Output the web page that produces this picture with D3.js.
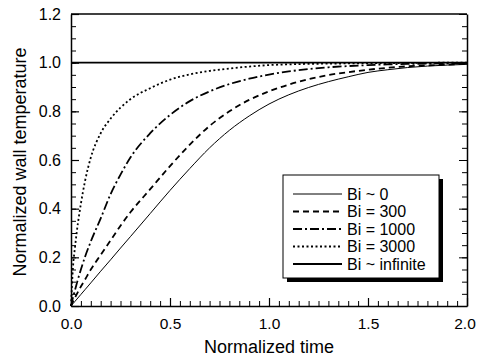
<!DOCTYPE html>
<html><head><meta charset="utf-8">
<script src="https://cdn.jsdelivr.net/npm/d3@7"></script>
<style>body{margin:0;background:#fff}svg{display:block}text{font-family:"Liberation Sans",Arial,sans-serif;fill:#000}</style>
</head><body>
<svg id="c" width="477" height="360"></svg>
<script>
const times = [0, 0.01, 0.02, 0.03, 0.05, 0.07, 0.1, 0.15, 0.2, 0.25, 0.3, 0.4, 0.5, 0.6, 0.7, 0.8, 0.9, 1.0, 1.1, 1.2, 1.3, 1.4, 1.5, 1.6, 1.7, 1.8, 1.9, 2.0];
const bi0    = [0, .0095, .019, .0285, .0475, .0665, .095, .143, .19, .238, .285, .38, .475, .565, .65, .722, .781, .83, .868, .898, .922, .942, .96, .971, .98, .986, .99, .993];
const bi300  = [0, .018, .034, .05, .08, .107, .15, .21, .27, .33, .385, .48, .575, .663, .74, .8, .847, .882, .91, .932, .949, .961, .971, .979, .985, .989, .992, .995];
const bi1000 = [0, .035, .065, .095, .15, .2, .265, .36, .46, .54, .61, .71, .785, .842, .882, .912, .934, .951, .964, .974, .981, .986, .99, .993, .995, .996, .997, .998];
const bi3000 = [0, .16, .24, .31, .42, .51, .61, .71, .77, .815, .85, .895, .93, .952, .966, .976, .984, .99, .993, .995, .996, .997, .998, .998, .999, .999, 1.0, 1.0];
const biInf  = times.map(() => 1.0);
const seriesNames = ["Bi ~ 0", "Bi = 300", "Bi = 1000", "Bi = 3000", "Bi ~ infinite"];
const xTicks = [0, 0.5, 1.0, 1.5, 2.0];
const yTicks = [0, 0.2, 0.4, 0.6, 0.8, 1.0, 1.2];

const styles = [
  {w: 1.0, dash: null},
  {w: 1.8, dash: "6,4"},
  {w: 1.8, dash: "9,3,2,3"},
  {w: 1.8, dash: "2,2.5"},
  {w: 1.8, dash: null}
];
const data = [bi0, bi300, bi1000, bi3000, biInf];

const svg = d3.select("#c");
const L = 71, R = 467, T = 14, B = 306;
const x = d3.scaleLinear().domain([0, 2]).range([L, R]);
const y = d3.scaleLinear().domain([0, 1.2]).range([B, T]);

const minorX = d3.range(0, 2.0001, 0.05);
const minorY = d3.range(0, 1.2001, 0.05);

const line = d3.line().x(d => x(d[0])).y(d => y(d[1])).curve(d3.curveMonotoneX);
data.forEach((vals, i) => {
  svg.append("path")
    .datum(times.map((t, j) => [t, vals[j]]))
    .attr("d", line)
    .attr("fill", "none")
    .attr("stroke", "#000")
    .attr("stroke-width", styles[i].w)
    .attr("stroke-dasharray", styles[i].dash);
});

const xAxis = d3.axisBottom(x).tickValues(xTicks).tickFormat(d3.format(".1f")).tickSizeInner(-8).tickSizeOuter(0).tickPadding(12);
const gx = svg.append("g").attr("transform", `translate(0,${B})`).call(xAxis);
gx.selectAll("text").attr("font-size", 15.5).attr("font-family", "Liberation Sans, Arial, sans-serif");
gx.selectAll(".tick").filter(d => d === 2).select("text").attr("dx", -2.5);
gx.select(".domain").attr("stroke-width", 1.5);
gx.selectAll(".tick line").attr("stroke-width", 1.2);
svg.append("g").attr("transform", `translate(0,${B})`)
  .call(d3.axisBottom(x).tickValues(minorX).tickSize(-5).tickFormat(""))
  .call(g => g.select(".domain").remove());

const yAxis = d3.axisLeft(y).tickValues(yTicks).tickFormat(d3.format(".1f")).tickSizeInner(-8).tickSizeOuter(0).tickPadding(10);
const gy = svg.append("g").attr("transform", `translate(${L},0)`).call(yAxis);
gy.selectAll("text").attr("font-size", 16).attr("font-family", "Liberation Sans, Arial, sans-serif");
gy.select(".domain").attr("stroke-width", 1.5);
gy.selectAll(".tick line").attr("stroke-width", 1.2);
svg.append("g").attr("transform", `translate(${L},0)`)
  .call(d3.axisLeft(y).tickValues(minorY).tickSize(-5).tickFormat(""))
  .call(g => g.select(".domain").remove());

svg.append("g").attr("transform", `translate(${R},0)`)
  .call(d3.axisRight(y).tickValues(yTicks).tickSizeInner(-8).tickSizeOuter(0).tickFormat(""))
  .call(g => g.select(".domain").attr("stroke-width", 1.5));
svg.append("g").attr("transform", `translate(${R},0)`)
  .call(d3.axisRight(y).tickValues(minorY).tickSize(-5).tickFormat(""))
  .call(g => g.select(".domain").remove());

svg.append("line").attr("x1", L).attr("x2", R).attr("y1", T).attr("y2", T)
  .attr("stroke", "#000").attr("stroke-width", 1.5);

svg.append("text").attr("x", (L + R) / 2).attr("y", 353).attr("text-anchor", "middle")
  .attr("font-size", 18).text("Normalized time");
svg.append("text").attr("transform", `translate(26,${(T + B) / 2 + 2}) rotate(-90)`)
  .attr("text-anchor", "middle").attr("font-size", 18).text("Normalized wall temperature");

const lx = 283, ly = 175, lw = 156, lh = 103;
svg.append("rect").attr("x", lx + 4).attr("y", ly + 4).attr("width", lw).attr("height", lh).attr("fill", "#000");
svg.append("rect").attr("x", lx).attr("y", ly).attr("width", lw).attr("height", lh)
  .attr("fill", "#fff").attr("stroke", "#000").attr("stroke-width", 1);
seriesNames.forEach((name, i) => {
  const yy = ly + 19 + i * 17.5;
  svg.append("line").attr("x1", lx + 10).attr("x2", lx + 59).attr("y1", yy).attr("y2", yy)
    .attr("stroke", "#000").attr("stroke-width", styles[i].w)
    .attr("stroke-dasharray", styles[i].dash);
  svg.append("text").attr("x", lx + 64).attr("y", yy + 5.5).attr("font-size", 16).text(name);
});
</script>
</body></html>
